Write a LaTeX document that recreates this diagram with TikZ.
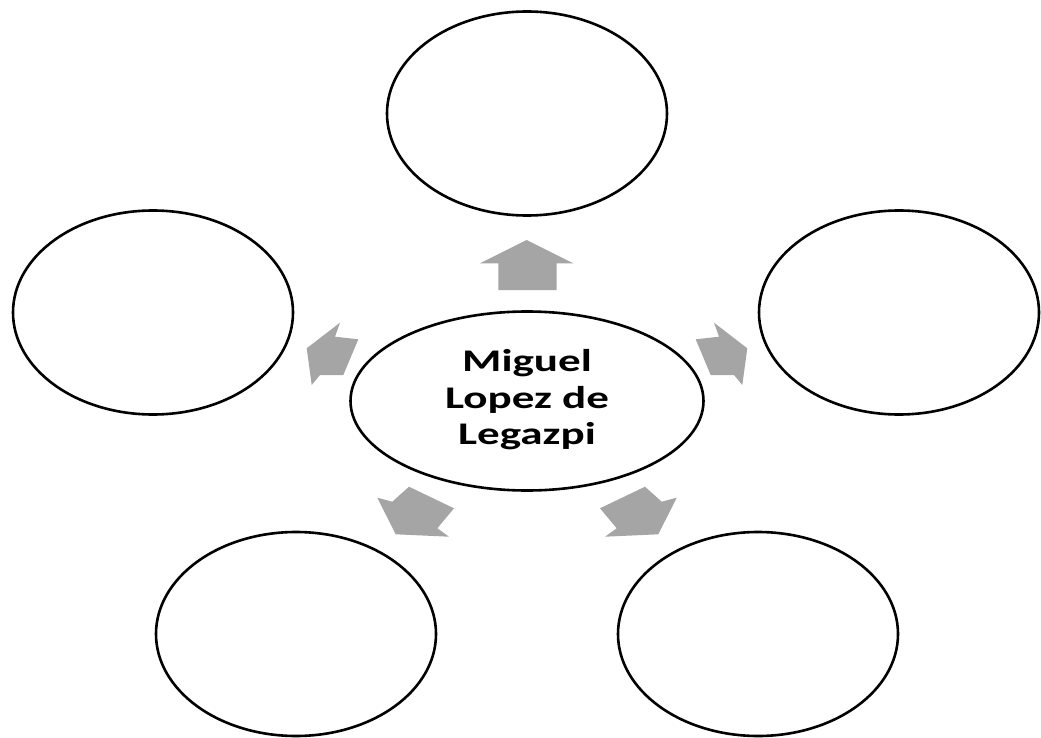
\documentclass[tikz,border=0pt]{standalone}
\usepackage{fontspec}
\setmainfont{Carlito}
\newfontfamily\hubfont{Carlito}[FakeStretch=1.43]
\usetikzlibrary{shapes.geometric}
\definecolor{arrowgray}{HTML}{A5A5A5}
\tikzset{
  bubble/.style={draw=black, line width=2.6pt, ellipse, fill=white, inner sep=0pt, outer sep=0pt, minimum width=280pt, minimum height=204pt},
  hub/.style={bubble, minimum width=353pt, minimum height=179pt, align=center, font=\hubfont\bfseries\fontsize{31.5}{36.5}\selectfont},
  blockarrow/.style={fill=arrowgray, draw=none}
}
\begin{document}
\begin{tikzpicture}[x=1pt, y=-1pt]
\useasboundingbox (0,0) rectangle (1041,738);
% outer bubbles
\node[bubble] (top) at (527,113.5) {};
\node[bubble] (left) at (153,312.5) {};
\node[bubble] (right) at (899,312.5) {};
\node[bubble] (botleft) at (296,634) {};
\node[bubble] (botright) at (758,634) {};
% centre
\node[hub] (centre) at (527,401) {\raisebox{-8pt}{\begin{tabular}{@{}c@{}}Miguel\\Lopez de\\Legazpi\end{tabular}}};
% arrows
\fill[blockarrow] (526.7,240) -- (573.3,263.3) -- (556.7,263.3) -- (556.7,290) -- (498.3,290) -- (498.3,263.3) -- (480,263.3) -- cycle;
\fill[blockarrow] (306.7,348.3) -- (340,322.7) -- (335,336.7) -- (358.3,339.3) -- (343.3,375) -- (320,375) -- (311.7,385) -- cycle;
\fill[blockarrow] (747.3,348.3) -- (714,322.7) -- (719,336.7) -- (695.7,339.3) -- (710.7,375) -- (734,375) -- (742.3,385) -- cycle;
\fill[blockarrow] (600,508.3) -- (645,486.7) -- (661.7,501.7) -- (676.7,497.7) -- (658.3,534.3) -- (605,536.7) -- (616.7,528.3) -- cycle;
\fill[blockarrow] (454,508.3) -- (409,486.7) -- (392.3,501.7) -- (377.3,497.7) -- (395.7,534.3) -- (449,536.7) -- (437.3,528.3) -- cycle;
\end{tikzpicture}
\end{document}
